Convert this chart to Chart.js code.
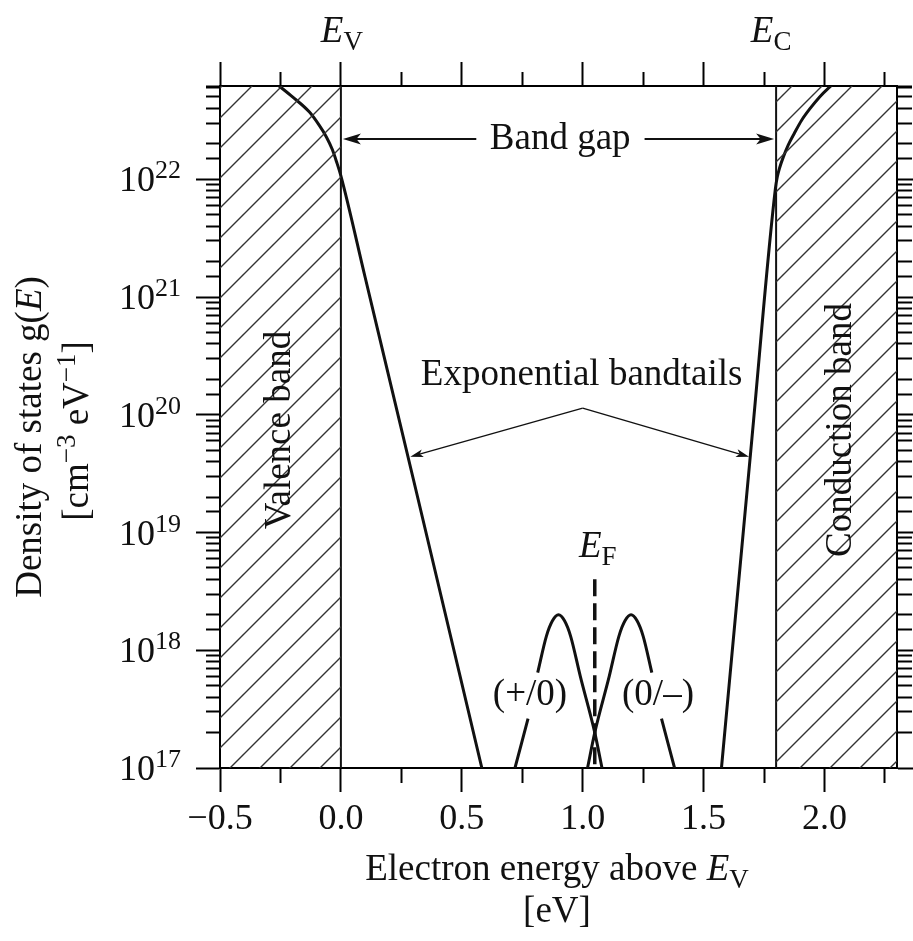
<!DOCTYPE html>
<html>
<head>
<meta charset="utf-8">
<script src="https://cdn.jsdelivr.net/npm/chart.js@4.4.1/dist/chart.umd.min.js"></script>
<style>
  html, body { margin: 0; padding: 0; background: #fff; }
  #wrap { width: 913px; height: 941px; }
</style>
</head>
<body>
<div id="wrap"><canvas id="dos" width="913" height="941"></canvas></div>
<script>
// energy above E_V [eV] and density of states [cm^-3 eV^-1]
const valenceE = [-0.26, -0.2, -0.13, -0.09, -0.06, -0.035, -0.018, 0.0, 0.1, 0.3, 0.583];
const valenceG = [6.31e22, 5.01e22, 3.72e22, 2.88e22, 2.29e22, 1.78e22, 1.41e22, 1.07e22, 1.48e21, 2.82e19, 1.0e17];

const conductionE = [1.574, 1.70, 1.797, 1.805, 1.815, 1.83, 1.85, 1.875, 1.905, 1.94, 1.98, 2.03];
const conductionG = [1.0e17, 6.31e19, 8.32e21, 1.05e22, 1.26e22, 1.55e22, 1.95e22, 2.45e22, 3.16e22, 3.98e22, 5.01e22, 6.31e22];

// (+/0) defect band, null = gap left for the label
const donorE = [0.72, 0.774, 0.79, 0.814, 0.85, 0.875, 0.9, 0.925, 0.95, 0.99, 1.05, 1.08];
const donorG = [1.0e17, 2.63e17, null, 6.46e17, 1.32e18, 1.78e18, 2.0e18, 1.78e18, 1.32e18, 6.03e17, 2.0e17, 1.0e17];

// (0/-) defect band
const acceptorE = [1.02, 1.05, 1.11, 1.15, 1.175, 1.2, 1.225, 1.25, 1.286, 1.31, 1.326, 1.38];
const acceptorG = [1.0e17, 2.0e17, 6.03e17, 1.32e18, 1.78e18, 2.0e18, 1.78e18, 1.32e18, 6.46e17, null, 2.63e17, 1.0e17];

const fermiE = [1.05, 1.05];
const fermiG = [4.0e18, 1.0e17];

const bandEdges = [0.0, 1.8];          // E_V, E_C
const xRange = [-0.5, 2.3];
const gRange = [1.0e17, 6.2e22];

const xTickValues = [-0.5, 0.0, 0.5, 1.0, 1.5, 2.0];
const xTickText = ['\u22120.5', '0.0', '0.5', '1.0', '1.5', '2.0'];
const yDecades = [17, 18, 19, 20, 21, 22];

const SERIF = '"Liberation Serif", "DejaVu Serif", serif';
const INK = '#111';
const TL = 24, MINOR = 14;

const pts = (xs, ys) => xs.map((x, i) => ({ x: x, y: ys[i] }));

function isMajorX(v) { return Math.abs(v * 2 - Math.round(v * 2)) < 1e-6; }
function isMajorY(v) { const l = Math.log10(v); return Math.abs(l - Math.round(l)) < 1e-6; }

function hatchPattern(ctx) {
  const tile = document.createElement('canvas');
  tile.width = 30; tile.height = 30;
  const g = tile.getContext('2d');
  g.strokeStyle = '#333';
  g.lineWidth = 1.4;
  g.beginPath();
  g.moveTo(-2, 10); g.lineTo(10, -2);
  g.moveTo(6, 32); g.lineTo(32, 6);
  g.stroke();
  return ctx.createPattern(tile, 'repeat');
}

// text with italic / sub / sup runs
function rich(ctx, parts, x, y, align, size) {
  const fontOf = s => (s === 'i' ? 'italic ' : '') +
    Math.round(s === 'sub' || s === 'sup' ? size * 0.72 : size) + 'px ' + SERIF;
  let w = 0;
  for (const [t, s] of parts) { ctx.font = fontOf(s); w += ctx.measureText(t).width; }
  let cx = align === 'center' ? x - w / 2 : align === 'right' ? x - w : x;
  ctx.textAlign = 'left';
  ctx.textBaseline = 'alphabetic';
  for (const [t, s] of parts) {
    ctx.font = fontOf(s);
    const dy = s === 'sub' ? size * 0.22 : s === 'sup' ? -size * 0.36 : 0;
    ctx.fillText(t, cx, y + dy);
    cx += ctx.measureText(t).width;
  }
}

function arrow(ctx, x1, y1, x2, y2, len, half, lw) {
  const a = Math.atan2(y2 - y1, x2 - x1);
  ctx.lineWidth = lw;
  ctx.beginPath();
  ctx.moveTo(x1, y1);
  ctx.lineTo(x2 - Math.cos(a) * len * 0.6, y2 - Math.sin(a) * len * 0.6);
  ctx.stroke();
  ctx.beginPath();
  ctx.moveTo(x2, y2);
  ctx.lineTo(x2 - Math.cos(a) * len - Math.sin(a) * half, y2 - Math.sin(a) * len + Math.cos(a) * half);
  ctx.lineTo(x2 - Math.cos(a) * len * 0.75, y2 - Math.sin(a) * len * 0.75);
  ctx.lineTo(x2 - Math.cos(a) * len + Math.sin(a) * half, y2 - Math.sin(a) * len - Math.cos(a) * half);
  ctx.closePath();
  ctx.fill();
}

const annotate = {
  id: 'annotate',
  afterDraw(chart) {
    const { ctx, scales: { x, y } } = chart;
    const px = v => x.getPixelForValue(v);
    const py = v => y.getPixelForValue(v);
    ctx.save();
    ctx.fillStyle = INK;
    ctx.strokeStyle = INK;

    // y tick labels 10^n
    yDecades.forEach(n => {
      const ty = py(Math.pow(10, n));
      ctx.font = '26px ' + SERIF;
      const sw = ctx.measureText(String(n)).width;
      rich(ctx, [['10', ''], [String(n), 'sup']], 181, ty + 12, 'right', 36);
    });

    // band edge labels
    rich(ctx, [['E', 'i'], ['V', 'sub']], px(bandEdges[0]) + 1, 42, 'center', 37);
    rich(ctx, [['E', 'i'], ['C', 'sub']], px(bandEdges[1]) - 5, 42, 'center', 37);

    // band gap
    const gy = py(2.2e22);
    rich(ctx, [['Band gap', '']], px(0.907), gy + 10, 'center', 37);
    arrow(ctx, px(0.56), gy, px(bandEdges[0]) + 2, gy, 18, 5.5, 2);
    arrow(ctx, px(1.256), gy, px(bandEdges[1]) - 2, gy, 18, 5.5, 2);

    // exponential bandtails
    rich(ctx, [['Exponential bandtails', '']], px(1.0) - 1, py(1.14e20) - 23, 'center', 37);
    const ax = px(1.0), ay = py(1.14e20);
    arrow(ctx, ax, ay, px(0.287), py(4.4e19), 13, 4, 1.4);
    arrow(ctx, ax, ay, px(1.688), py(4.4e19), 13, 4, 1.4);

    // Fermi level and defect labels
    rich(ctx, [['E', 'i'], ['F', 'sub']], px(1.05) + 3, 557, 'center', 37);
    rich(ctx, [['(+/0)', '']], 530, 705, 'center', 37);
    rich(ctx, [['(0/\u2013)', '']], 658, 705, 'center', 37);

    // rotated labels
    const vert = (cx, cy, fn) => {
      ctx.save(); ctx.translate(cx, cy); ctx.rotate(-Math.PI / 2); fn(); ctx.restore();
    };
    vert(290, 430, () => rich(ctx, [['Valence band', '']], 0, 0, 'center', 37));
    vert(851, 430, () => rich(ctx, [['Conduction band', '']], 0, 0, 'center', 37));
    vert(41, 437, () => rich(ctx, [['Density of states g(', ''], ['E', 'i'], [')', '']], 0, 0, 'center', 37));
    vert(88, 431, () => rich(ctx, [['[cm', ''], ['\u22123', 'sup'], [' eV', ''], ['\u22121', 'sup'], [']', '']], 0, 0, 'center', 37));

    // x axis title
    rich(ctx, [['Electron energy above ', ''], ['E', 'i'], ['V', 'sub']], 557, 880, 'center', 37);
    rich(ctx, [['[eV]', '']], 557, 922, 'center', 37);

    ctx.restore();
  }
};

const canvas = document.getElementById('dos');
const hatch = hatchPattern(canvas.getContext('2d'));

const curve = { borderColor: INK, borderWidth: 3, pointRadius: 0, fill: false, cubicInterpolationMode: 'monotone', spanGaps: false };

const datasets = [
  { data: pts([xRange[0], bandEdges[0]], [gRange[1], gRange[1]]), fill: 'start', backgroundColor: hatch, borderWidth: 0, pointRadius: 0 },
  { data: pts([bandEdges[1], xRange[1]], [gRange[1], gRange[1]]), fill: 'start', backgroundColor: hatch, borderWidth: 0, pointRadius: 0 },
  { data: pts([bandEdges[0], bandEdges[0]], gRange), borderColor: INK, borderWidth: 2, pointRadius: 0, fill: false },
  { data: pts([bandEdges[1], bandEdges[1]], gRange), borderColor: INK, borderWidth: 2, pointRadius: 0, fill: false },
  Object.assign({ data: pts(valenceE, valenceG) }, curve),
  Object.assign({ data: pts(conductionE, conductionG) }, curve),
  Object.assign({ data: pts(donorE, donorG) }, curve),
  Object.assign({ data: pts(acceptorE, acceptorG) }, curve),
  { data: pts(fermiE, fermiG), borderColor: INK, borderWidth: 3.5, borderDash: [17, 7], pointRadius: 0, fill: false }
];

function xAxis(position, size) {
  const bottom = position === 'bottom';
  return {
    type: 'linear', position: position, min: xRange[0], max: xRange[1],
    afterFit: s => { s.height = size; },
    border: { display: true, color: '#000', width: 2 },
    grid: {
      drawOnChartArea: false, drawTicks: true, tickLength: TL, tickColor: '#000', tickWidth: 2,
      tickBorderDash: c => isMajorX(c.tick.value) ? [] : (bottom ? [MINOR, 100] : [MINOR, TL - MINOR]),
      tickBorderDashOffset: c => (isMajorX(c.tick.value) || bottom) ? 0 : MINOR
    },
    ticks: {
      display: bottom, stepSize: 0.25, includeBounds: false, autoSkip: false, maxRotation: 0,
      padding: 6, color: INK, font: { family: SERIF, size: 36 },
      callback: v => {
        const i = xTickValues.findIndex(t => Math.abs(t - v) < 1e-6);
        return i < 0 ? '' : xTickText[i];
      }
    }
  };
}

function yAxis(position, size) {
  const right = position === 'right';
  return {
    type: 'logarithmic', position: position, min: gRange[0], max: gRange[1],
    afterFit: s => { s.width = size; },
    border: { display: true, color: '#000', width: 2 },
    grid: {
      drawOnChartArea: false, drawTicks: true, tickLength: TL, tickColor: '#000', tickWidth: 2,
      tickBorderDash: c => isMajorY(c.tick.value) ? [] : (right ? [MINOR, 100] : [MINOR, TL - MINOR]),
      tickBorderDashOffset: c => (isMajorY(c.tick.value) || right) ? 0 : MINOR
    },
    ticks: { display: false, autoSkip: false }
  };
}

new Chart(canvas, {
  type: 'line',
  data: { datasets: datasets },
  options: {
    responsive: false,
    devicePixelRatio: 1,
    animation: false,
    layout: { padding: 0 },
    plugins: { legend: { display: false }, tooltip: { enabled: false } },
    scales: {
      x: xAxis('bottom', 173),
      x2: xAxis('top', 86),
      y: yAxis('left', 220),
      y2: yAxis('right', 16)
    }
  },
  plugins: [annotate]
});
</script>
</body>
</html>
